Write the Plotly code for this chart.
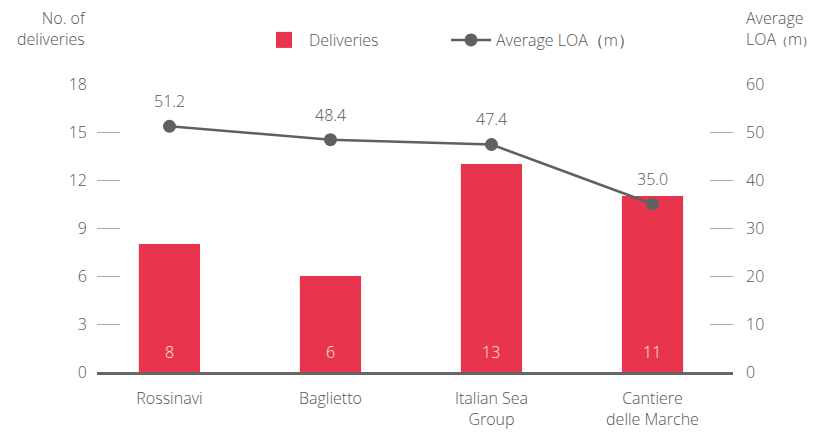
import plotly.graph_objects as go

categories = ["Rossinavi", "Baglietto", "Italian Sea<br>Group", "Cantiere<br>delle Marche"]
deliveries = [8, 6, 13, 11]
avg_loa = [51.2, 48.4, 47.4, 35.0]
left_ticks = [0, 3, 6, 9, 12, 15, 18]
right_ticks = [0, 10, 20, 30, 40, 50, 60]

FONT = "Open Sans"
W8 = 300
GRAY = "#555555"
RED = "#E8344C"
# page body has an 8px margin, so the figure is drawn 8px smaller
OFF = 8
W, H = 817 - OFF, 433 - OFF
ML, MR, MT, MB = 97 - OFF, 84, 84 - OFF, 61
pw = W - ML - MR
ph = H - MT - MB

def px_x(sx):  # screen px -> paper
    return (sx - OFF - ML) / pw

def px_y(sy):
    return (H - MB - (sy - OFF)) / ph

xs = list(range(len(categories)))

fig = go.Figure()
fig.add_trace(go.Bar(
    x=xs, y=deliveries, name="Deliveries",
    marker=dict(color=RED, line=dict(width=0)), width=0.38,
    showlegend=False, yaxis="y",
))
# legend entry for bars (square swatch)
fig.add_trace(go.Scatter(
    x=[None], y=[None], name="Deliveries", mode="markers",
    marker=dict(color=RED, symbol="square", size=16), yaxis="y",
))
fig.add_trace(go.Scatter(
    x=xs, y=avg_loa, name="Average LOA（m）",
    mode="lines+markers",
    line=dict(color="#606060", width=2.5),
    marker=dict(color="#606060", size=13),
    yaxis="y2", cliponaxis=False,
))

annotations = []
for i, v in zip(xs, deliveries):
    annotations.append(dict(x=i, y=0, xref="x", yref="y", text=str(v), showarrow=False,
                            yanchor="middle", yshift=20,
                            font=dict(color="#fde6e9", size=16, family=FONT, weight=W8)))
for i, v in zip(xs, avg_loa):
    annotations.append(dict(x=i, y=v, xref="x", yref="y2", text=f"{v:.1f}", showarrow=False,
                            yanchor="middle", yshift=25,
                            font=dict(color=GRAY, size=16, family=FONT, weight=W8)))
annotations += [
    dict(text="No. of<br>deliveries", x=px_x(88), y=px_y(29), xref="paper", yref="paper",
         showarrow=False, align="right", xanchor="right", yanchor="middle",
         font=dict(size=16, color=GRAY, family=FONT, weight=W8)),
    dict(text="Average<br>LOA<span style='font-size:12px'>（</span>m<span style='font-size:12px'>）</span>",
         x=px_x(744), y=px_y(29), xref="paper", yref="paper",
         showarrow=False, align="left", xanchor="left", yanchor="middle",
         font=dict(size=16, color=GRAY, family=FONT, weight=W8)),
]

fig.update_layout(
    width=W, height=H,
    margin=dict(l=ML, r=MR, t=MT, b=MB, autoexpand=False),
    paper_bgcolor="white", plot_bgcolor="white",
    font=dict(family=FONT, color=GRAY, size=16, weight=W8),
    showlegend=True,
    legend=dict(orientation="h", x=px_x(259), xanchor="left", y=px_y(40), yanchor="middle",
                font=dict(size=16, color=GRAY, family=FONT, weight=W8), itemwidth=40,
                entrywidth=132, entrywidthmode="pixels", traceorder="normal"),
    xaxis=dict(
        tickmode="array", tickvals=xs, ticktext=categories,
        range=[-0.45, 3.5], showgrid=False, zeroline=False,
        showline=True, linecolor="#666666", linewidth=2.5,
        ticks="", tickfont=dict(size=16, color=GRAY, family=FONT, weight=W8),
        ticklabelstandoff=10,
    ),
    yaxis=dict(
        range=[0, 18], tickvals=left_ticks, showgrid=False, zeroline=False,
        ticks="inside", ticklen=23, tickcolor="#aaaaaa", tickwidth=1,
        tickfont=dict(size=16, color=GRAY, family=FONT, weight=W8), ticklabelstandoff=9,
    ),
    yaxis2=dict(
        range=[0, 60], tickvals=right_ticks, overlaying="y", side="right",
        showgrid=False, zeroline=False,
        ticks="inside", ticklen=23, tickcolor="#aaaaaa", tickwidth=1,
        tickfont=dict(size=16, color=GRAY, family=FONT, weight=W8), ticklabelstandoff=12,
    ),
    annotations=annotations,
)

fig.write_html("out.html")
